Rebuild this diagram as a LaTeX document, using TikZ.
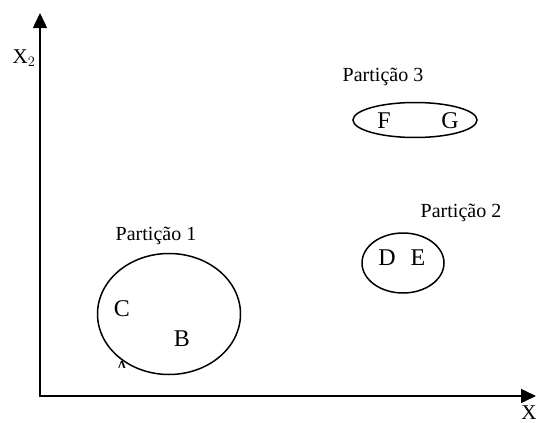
\documentclass[tikz,border=0pt]{standalone}
\usepackage{fontspec}
\setmainfont{Liberation Serif}
\usetikzlibrary{arrows.meta,shapes.geometric}
\tikzset{
  axis/.style={line width=1.5pt, -{Triangle[length=15pt,width=14pt]}},
  part/.style={draw, ellipse, line width=1.5pt},
  lbl/.style={font=\fontsize{20}{23}\selectfont, inner sep=0pt},
  elem/.style={font=\fontsize{24}{28}\selectfont, inner sep=0pt},
}
\begin{document}
\begin{tikzpicture}[x=1pt,y=-1pt]
  \clip (0,0) rectangle (536,423);
  \fill[white] (0,0) rectangle (536,423);

  % axes
  \coordinate (o) at (40,396);
  \coordinate (ytop) at (40,13);
  \coordinate (xend) at (536,396);
  \draw[axis] (o) -- (ytop);
  \draw[axis] ([xshift=-0.75pt]o) -- (xend);
  \node[lbl, font=\fontsize{21}{24}\selectfont] (x2) at (24,58) {X$_2$};
  \node[lbl, font=\fontsize{21}{24}\selectfont] (x1) at (529,413) {X};

  % partition 1
  \node[part, minimum width=143pt, minimum height=121pt] (p1) at (169,314) {};
  \node[lbl] (t1) at (156,236) {Partição 1};
  \node[elem] (c) at (122,309) {C};
  \node[elem] (b) at (182,339) {B};
  \begin{scope}
    \clip (110,358) rectangle (134,367);
    \node[lbl] (a) at (122,368) {A};
  \end{scope}

  % partition 2
  \node[part, minimum width=82pt, minimum height=60pt] (p2) at (403,263) {};
  \node[lbl] (t2) at (461,213) {Partição 2};
  \node[elem] (d) at (387,258) {D};
  \node[elem] (e) at (418,258) {E};

  % partition 3
  \node[part, minimum width=124pt, minimum height=35pt] (p3) at (415,120) {};
  \node[lbl] (t3) at (383,77) {Partição 3};
  \node[elem] (f) at (384,121) {F};
  \node[elem] (g) at (450,121) {G};
\end{tikzpicture}
\end{document}
